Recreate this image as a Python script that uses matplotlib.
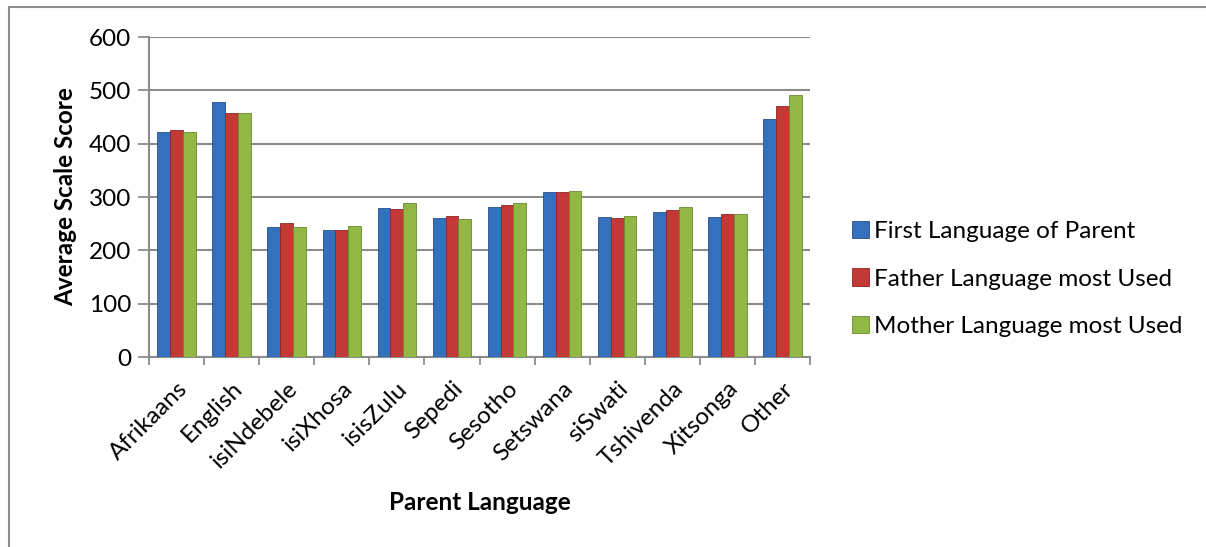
import numpy as np
import matplotlib
matplotlib.use('Agg')
import matplotlib.pyplot as plt
from matplotlib.lines import Line2D

languages = ['Afrikaans', 'English', 'isiNdebele', 'isiXhosa', 'isisZulu', 'Sepedi',
             'Sesotho', 'Setswana', 'siSwati', 'Tshivenda', 'Xitsonga', 'Other']
first_lang = [422, 479, 243, 238, 280, 260, 282, 309, 263, 272, 263, 447]
father_lang = [425, 458, 251, 238, 277, 265, 285, 309, 260, 276, 269, 470]
mother_lang = [421, 458, 244, 245, 289, 258, 289, 311, 265, 282, 269, 491]
series_names = ['First Language of Parent', 'Father Language most Used', 'Mother Language most Used']

plt.rcParams['font.family'] = ['Lato', 'DejaVu Sans']
fs = 17.5

fig = plt.figure(figsize=(12.06, 5.47), dpi=100)
ax = fig.add_axes([149 / 1206, 1 - 357 / 547, 661 / 1206, 320 / 547])

colors = ['#3470BB', '#C23936', '#91B745']
edges = ['#23508a', '#8e2523', '#6a8a2c']
x = np.arange(len(languages))
w = 0.233
for i, (vals, name) in enumerate(zip([first_lang, father_lang, mother_lang], series_names)):
    ax.bar(x + (i - 1) * w, vals, width=w, color=colors[i], edgecolor=edges[i],
           linewidth=0.6, label=name, zorder=3)

ax.set_xlim(-0.5, len(languages) - 0.5)
ax.set_ylim(0, 600)
ax.set_yticks(np.arange(0, 601, 100))
ax.yaxis.grid(True, color='#8c8c8c', linewidth=1.5)
ax.set_axisbelow(True)

ax.set_xticks(x)
ax.set_xticklabels(languages, rotation=45, ha='right', rotation_mode='anchor', fontsize=fs)
ax.tick_params(axis='x', length=0, pad=15)
ax.set_xticks(np.arange(-0.5, len(languages)), minor=True)
ax.tick_params(axis='x', which='minor', length=6, width=1.3, color='#8c8c8c', direction='out')
ax.tick_params(axis='y', length=8, width=1.3, color='#8c8c8c', labelsize=fs, pad=5)

for s in ['top', 'right']:
    ax.spines[s].set_visible(False)
for s in ['left', 'bottom']:
    ax.spines[s].set_color('#8c8c8c')
    ax.spines[s].set_linewidth(1.5)

ax.set_ylabel('Average Scale Score', fontsize=fs, fontweight='bold', labelpad=8)
ax.set_xlabel('Parent Language', fontsize=fs, fontweight='bold', labelpad=14)

ax.legend(loc='center left', bbox_to_anchor=(830 / 1206, 1 - 279 / 547),
          bbox_transform=fig.transFigure, frameon=False, fontsize=fs,
          handlelength=0.7, handleheight=0.7, handletextpad=0.2, labelspacing=1.1)

# outer chart border
bx = 9 / 1206
by = 1 - 7 / 547
fig.add_artist(Line2D([bx, bx], [0, by], transform=fig.transFigure, color='#8c8c8c', linewidth=1.5))
fig.add_artist(Line2D([bx, 1], [by, by], transform=fig.transFigure, color='#8c8c8c', linewidth=1.5))

fig.savefig('out.png', dpi=100)
